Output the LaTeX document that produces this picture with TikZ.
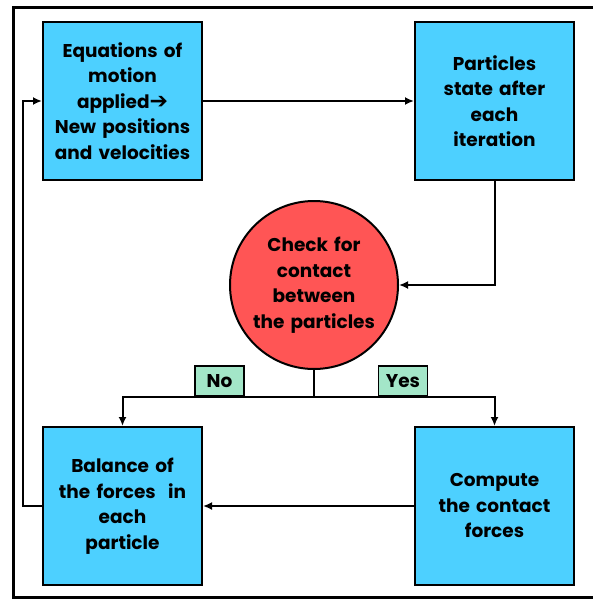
\documentclass[tikz,border=0pt]{standalone}
\usepackage{fontspec}
\setmainfont{Poppins}
\newfontfamily\arrowfont{DejaVu Sans}
\usepackage{xcolor}
\usetikzlibrary{arrows.meta,positioning}

\definecolor{boxblue}{HTML}{4DD0FF}
\definecolor{checkred}{HTML}{FF5555}
\definecolor{answergreen}{HTML}{A3E6C8}

\begin{document}
\begin{tikzpicture}[
    x=1pt, y=-1pt,
    font=\fontsize{18.5}{25.5}\selectfont\bfseries,
    stage/.style={rectangle, draw, line width=2pt, fill=boxblue, minimum width=159pt, minimum height=158pt, text width=155pt, align=center, inner sep=0pt},
    check/.style={circle, draw, line width=2pt, fill=checkred, minimum size=168pt, text width=135pt, align=center, inner sep=0pt},
    answer/.style={rectangle, draw, line width=1.6pt, fill=answergreen, minimum width=49pt, minimum height=30pt, inner sep=0pt},
    arrow/.style={line width=2pt, -{Latex[length=9pt,width=8pt]}}
]
    \useasboundingbox (0,0) rectangle (592,599);
    % outer frame
    \draw[line width=3pt] (600,8) -- (13,8) -- (13,597) -- (600,597);

    \node[stage] (eqs) at (122.5,101) {Equations of\\motion\\applied{\arrowfont\fontsize{22}{25.5}\selectfont ➔}\\New positions\\and velocities};
    \node[stage, right=211pt of eqs] (state) {Particles\\state after\\each\\iteration};
    \node[check] (check) at (314,285) {Check for\\contact\\between\\the particles};
    \node[stage, below=245pt of eqs] (balance) {Balance of\\the forces\ \ in\\each\\particle\\[-12pt]};
    \node[stage, below=245pt of state] (compute) {Compute\\the contact\\forces};

    \coordinate (split) at (314,397);
    \node[answer, anchor=south] (no) at (219.5,397) {No};
    \node[answer, anchor=south] (yes) at (403,397) {Yes};

    \draw[arrow] (eqs) -- (state);
    \draw[arrow] (state.south) |- (check.east);
    \draw[line width=2pt] (check.south) -- (split);
    \draw[arrow] (split) -| (balance.north);
    \draw[arrow] (split) -| (compute.north);
    \draw[arrow] (compute) -- (balance);
    \draw[arrow] (balance.west) -- ++(-19,0) |- (eqs.west);
\end{tikzpicture}
\end{document}
